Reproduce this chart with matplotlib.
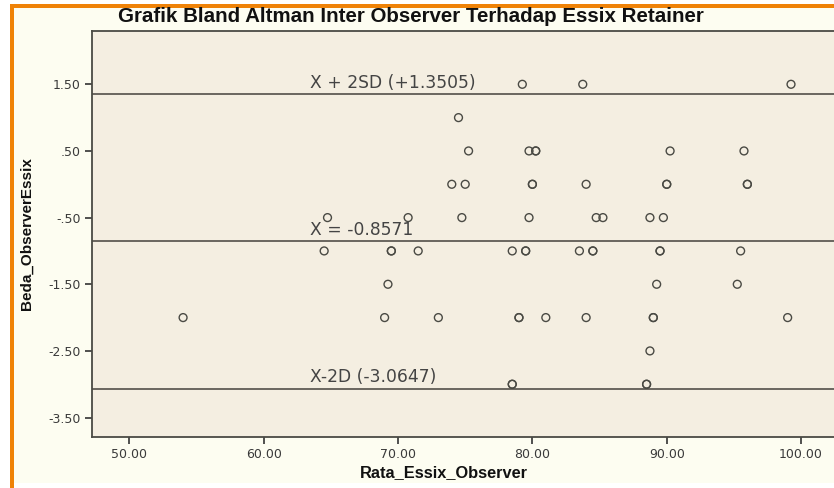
import numpy as np
import matplotlib
matplotlib.use("Agg")
import matplotlib.pyplot as plt
from matplotlib.patches import Rectangle

plt.rcParams['font.family'] = ['Liberation Sans', 'DejaVu Sans']

# mean of the two observers, difference between them (bold circles = repeated points)
rata = [79.25, 83.75, 99.25,
        74.5,
        75.25, 79.75, 80.25, 80.25, 90.25, 95.75,
        74.0, 75.0, 80.0, 80.0, 84.0, 90.0, 90.0, 96.0, 96.0,
        64.75, 70.75, 74.75, 79.75, 84.75, 85.25, 88.75, 89.75,
        64.5, 69.5, 69.5, 71.5, 78.5, 79.5, 79.5, 83.5, 84.5, 84.5, 89.5, 89.5, 95.5,
        69.25, 89.25, 95.25,
        54.0, 69.0, 73.0, 79.0, 79.0, 81.0, 84.0, 89.0, 89.0, 99.0,
        88.75,
        78.5, 78.5, 88.5, 88.5]
beda = [1.5] * 3 + [1.0] + [0.5] * 6 + [0.0] * 9 + [-0.5] * 8 + [-1.0] * 13 \
    + [-1.5] * 3 + [-2.0] * 10 + [-2.5] + [-3.0] * 4

mean_diff = -0.8571
upper = 1.3505
lower = -3.0647
line_labels = ["X + 2SD (+1.3505)", "X = -0.8571", "X-2D (-3.0647)"]

yticks = [1.5, 0.5, -0.5, -1.5, -2.5, -3.5]
ytick_labels = ["1.50", ".50", "-.50", "-1.50", "-2.50", "-3.50"]
xticks = [50, 60, 70, 80, 90, 100]
xtick_labels = ["50.00", "60.00", "70.00", "80.00", "90.00", "100.00"]

fig = plt.figure(figsize=(8.34, 4.88), dpi=100)
fig.patch.set_facecolor("white")

# cream panel and orange frame
W, H = 834.0, 488.0
fig.patches.append(Rectangle((14 / W, (H - 483) / H), 1 - 14 / W, (483 - 8) / H,
                             transform=fig.transFigure, facecolor="#fdfdf1", edgecolor="none", zorder=0))
fig.patches.append(Rectangle((10 / W, 0), 4 / W, (H - 4) / H,
                             transform=fig.transFigure, facecolor="#ef8207", edgecolor="none", zorder=1))
fig.patches.append(Rectangle((10 / W, (H - 8) / H), 1 - 10 / W, 4 / H,
                             transform=fig.transFigure, facecolor="#ef8207", edgecolor="none", zorder=1))

ax = fig.add_axes([92 / W, (H - 436.7) / H, 1 - 92 / W, (436.7 - 30.7) / H])
ax.set_zorder(5)
ax.set_facecolor("#f4eee1")

ax.scatter(rata, beda, s=32, facecolors="none", edgecolors="#4a4a44", linewidths=1.0, zorder=3)

for val, lab in zip([upper, mean_diff, lower], line_labels):
    ax.axhline(val, color="#5f5b55", lw=1.3, zorder=2)
    ax.annotate(lab, xy=(63.45, val), xytext=(0, 1.5), textcoords="offset points",
                ha="left", va="bottom", fontsize=12.3, color="#444444", family="DejaVu Sans")

ax.set_xlim(47.22, 102.45)
ax.set_ylim(-3.787, 2.304)
ax.set_xticks(xticks)
ax.set_xticklabels(xtick_labels, family="DejaVu Sans")
ax.set_yticks(yticks)
ax.set_yticklabels(ytick_labels, family="DejaVu Sans")
ax.tick_params(axis="both", direction="out", length=5, width=1.2, color="#333333",
               labelsize=9, labelcolor="#3a3a3a", pad=3)
ax.spines["right"].set_visible(False)
for s in ["left", "bottom", "top"]:
    ax.spines[s].set_color("#4a4a44")
    ax.spines[s].set_linewidth(1.3)

fig.text(411 / W, (H - 17) / H, "Grafik Bland Altman Inter Observer Terhadap Essix Retainer",
         ha="center", va="center", fontsize=14.8, fontweight="bold", color="#111111", zorder=6)
fig.text(27 / W, (H - 234) / H, "Beda_ObserverEssix", rotation=90,
         ha="center", va="center", fontsize=11, fontweight="bold", color="#111111", zorder=6)
fig.text(444 / W, (H - 473) / H, "Rata_Essix_Observer",
         ha="center", va="center", fontsize=11.8, fontweight="bold", color="#111111", zorder=6)

fig.savefig("out.png", dpi=100)
